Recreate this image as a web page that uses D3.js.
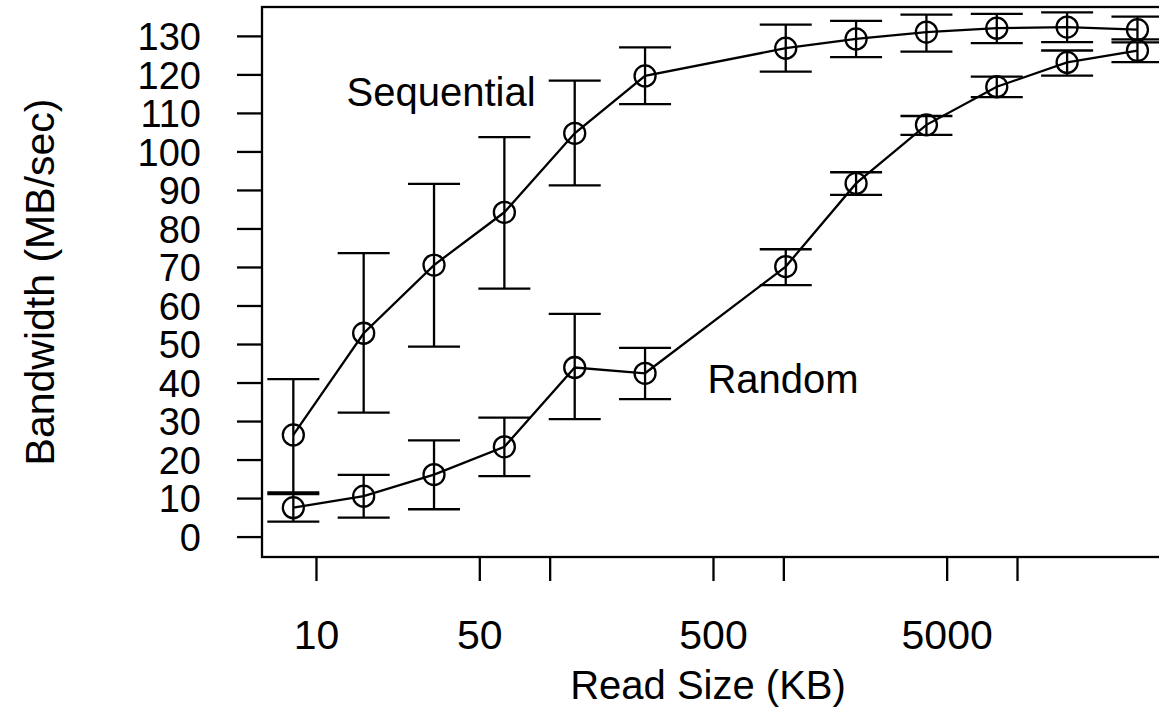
<!DOCTYPE html>
<html>
<head>
<meta charset="utf-8">
<script src="https://cdn.jsdelivr.net/npm/d3@7"></script>
<style>
  html, body { margin: 0; padding: 0; background: #fff; }
  svg { display: block; font-family: "Liberation Sans", Arial, sans-serif; }
  .tick line { stroke: #000; stroke-width: 2.3px; }
  .tick text { fill: #000; }
</style>
</head>
<body>
<svg id="chart" width="1159" height="708"></svg>
<script>
// read sizes in KB (log axis)
const readSizes = [8, 16, 32, 64, 128, 256, 1024, 2048, 4096, 8192, 16384, 32768];

// sequential reads, MB/sec
const seqMean = [26.4, 52.8, 70.5, 84.2, 104.7, 119.6, 126.8, 129.2, 131.0, 132.0, 132.3, 131.6];
const seqLow  = [11.5, 32.2, 49.3, 64.4, 91.2, 112.3, 120.7, 124.5, 125.9, 128.1, 128.4, 129.1];
const seqHigh = [40.9, 73.6, 91.6, 103.7, 118.4, 127.0, 132.9, 133.9, 135.5, 135.7, 136.1, 135.0];

// random reads, MB/sec
const randMean = [7.5, 10.5, 16.1, 23.3, 43.9, 42.4, 70.1, 91.7, 106.9, 116.8, 123.1, 126.2];
const randLow  = [3.9, 4.9, 7.1, 15.7, 30.5, 35.7, 65.3, 88.7, 104.3, 114.1, 119.7, 123.2];
const randHigh = [11.0, 16.0, 25.0, 30.9, 57.8, 49.0, 74.6, 94.6, 109.2, 119.4, 126.2, 128.3];

const xTicks = [10, 50, 100, 500, 1000, 5000, 10000];
const xTickLabels = ["10", "50", "", "500", "", "5000", ""];
const yTicks = d3.range(0, 131, 10);

const svg = d3.select('#chart');

const x = d3.scaleLog()
  .domain([Math.pow(10, 0.769), Math.pow(10, 4.659)])
  .range([262, 1171]);

const y = d3.scaleLinear()
  .domain([-5.3, 137.5])
  .range([557, 7]);

// y axis
const yAxis = svg.append('g')
  .attr('transform', `translate(${x.range()[0]},0)`)
  .call(d3.axisLeft(y).tickValues(yTicks).tickSize(25).tickPadding(36));
yAxis.select('.domain').remove();
yAxis.selectAll('text')
  .attr('font-size', 38)
  .attr('dy', '0.36em');

// x axis
const xAxis = svg.append('g')
  .attr('transform', `translate(0,${y.range()[0]})`)
  .call(d3.axisBottom(x)
    .tickValues(xTicks)
    .tickFormat((d, i) => xTickLabels[i])
    .tickSize(24)
    .tickPadding(39));
xAxis.select('.domain').remove();
xAxis.selectAll('text')
  .attr('font-size', 41)
  .attr('dy', '0.71em');

// plot box
svg.append('rect')
  .attr('x', x.range()[0])
  .attr('y', y.range()[1])
  .attr('width', x.range()[1] - x.range()[0])
  .attr('height', y.range()[0] - y.range()[1])
  .attr('fill', 'none')
  .attr('stroke', '#000')
  .attr('stroke-width', 2.3);

// axis titles
svg.append('text')
  .attr('x', 708)
  .attr('y', 699)
  .attr('text-anchor', 'middle')
  .attr('font-size', 40)
  .text('Read Size (KB)');

svg.append('text')
  .attr('transform', 'translate(54,282) rotate(-90)')
  .attr('text-anchor', 'middle')
  .attr('font-size', 41)
  .text('Bandwidth (MB/sec)');

const capHalf = 26;

function drawSeries(mean, low, high) {
  const rows = readSizes.map((s, i) => ({size: s, mean: mean[i], low: low[i], high: high[i]}));
  const g = svg.append('g')
    .attr('stroke', '#000')
    .attr('stroke-width', 2.3)
    .attr('fill', 'none');

  g.append('path')
    .attr('d', d3.line()
      .x(d => x(d.size))
      .y(d => y(d.mean))(rows));

  const bars = g.selectAll('g.bar')
    .data(rows)
    .enter().append('g')
      .attr('class', 'bar');

  bars.append('line')
    .attr('x1', d => x(d.size))
    .attr('x2', d => x(d.size))
    .attr('y1', d => y(d.low))
    .attr('y2', d => y(d.high));

  bars.append('line')
    .attr('x1', d => x(d.size) - capHalf)
    .attr('x2', d => x(d.size) + capHalf)
    .attr('y1', d => y(d.high))
    .attr('y2', d => y(d.high));

  bars.append('line')
    .attr('x1', d => x(d.size) - capHalf)
    .attr('x2', d => x(d.size) + capHalf)
    .attr('y1', d => y(d.low))
    .attr('y2', d => y(d.low));

  bars.append('circle')
    .attr('cx', d => x(d.size))
    .attr('cy', d => y(d.mean))
    .attr('r', 10.5);
}

drawSeries(seqMean, seqLow, seqHigh);
drawSeries(randMean, randLow, randHigh);

// series labels
svg.append('text')
  .attr('x', 441)
  .attr('y', 106)
  .attr('text-anchor', 'middle')
  .attr('font-size', 40)
  .text('Sequential');

svg.append('text')
  .attr('x', 783)
  .attr('y', 393)
  .attr('text-anchor', 'middle')
  .attr('font-size', 40)
  .text('Random');
</script>
</body>
</html>
